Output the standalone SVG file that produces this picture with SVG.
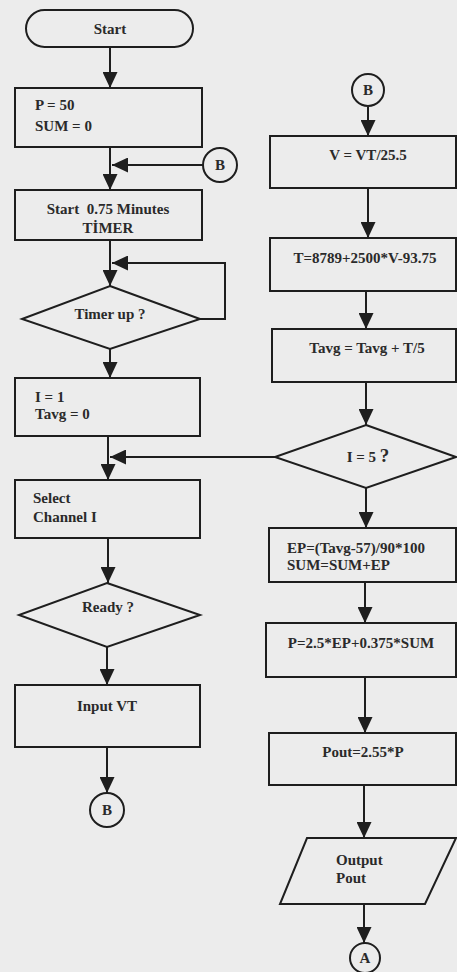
<svg xmlns="http://www.w3.org/2000/svg" width="457" height="972" viewBox="0 0 457 972">
<style>
.sh{fill:none;stroke:#1e1e1e;stroke-width:2}
.ln{fill:none;stroke:#1e1e1e;stroke-width:2;marker-end:url(#ah)}
text{font-family:"Liberation Serif","Times New Roman",serif;font-size:15px;font-weight:bold;fill:#2a2a2a}
.c{text-anchor:middle}
</style>
<defs>
<marker id="ah" markerUnits="userSpaceOnUse" markerWidth="16" markerHeight="15" viewBox="0 0 16 15" refX="16" refY="7.5" orient="auto">
<path d="M0,0 L16,7.5 L0,15 z" fill="#1e1e1e"/>
</marker>
</defs>
<rect width="457" height="972" fill="#ececec"/>
<g id="connectors">
<path class="ln" d="M110,47 V88"/>
<path class="ln" d="M110,147 V190"/>
<path class="ln" d="M203,165 H112"/>
<path class="ln" d="M110,240 V286"/>
<path class="ln" d="M200,319 H225 V263 H112"/>
<path class="ln" d="M110,349 V378"/>
<path class="ln" d="M108,436 V480"/>
<path class="ln" d="M275,457 H110"/>
<path class="ln" d="M108,538 V583"/>
<path class="ln" d="M107,647 V685"/>
<path class="ln" d="M107,747 V793"/>
<path class="ln" d="M368,107 V136"/>
<path class="ln" d="M368,188 V238"/>
<path class="ln" d="M366,291 V329"/>
<path class="ln" d="M366,382 V425"/>
<path class="ln" d="M366,488 V528"/>
<path class="ln" d="M365,582 V623"/>
<path class="ln" d="M365,677 V733"/>
<path class="ln" d="M364,785 V838"/>
<path class="ln" d="M364,904 V943"/>
</g>
<g id="start">
<rect class="sh" x="26" y="10" width="167" height="37" rx="18.5"/>
<text class="c" x="110" y="34">Start</text>
</g>
<g id="init">
<rect class="sh" x="15" y="88" width="187" height="59"/>
<text x="35" y="110">P = 50</text>
<text x="35" y="131">SUM = 0</text>
</g>
<g id="connB1">
<circle class="sh" cx="220" cy="165" r="17"/>
<text class="c" x="220" y="170">B</text>
</g>
<g id="timer">
<rect class="sh" x="15" y="190" width="187" height="50"/>
<text class="c" x="108" y="214">Start&#160; 0.75 Minutes</text>
<text class="c" x="108" y="233">TİMER</text>
</g>
<g id="timerup">
<polygon class="sh" points="110,286 200,319 110,349 22,319"/>
<text class="c" x="110" y="319">Timer up ?</text>
</g>
<g id="i1">
<rect class="sh" x="15" y="378" width="185" height="58"/>
<text x="35" y="402">I = 1</text>
<text x="35" y="419">Tavg = 0</text>
</g>
<g id="select">
<rect class="sh" x="15" y="480" width="185" height="58"/>
<text x="33" y="503">Select</text>
<text x="33" y="522">Channel I</text>
</g>
<g id="ready">
<polygon class="sh" points="107,583 200,615 107,647 19,615"/>
<text class="c" x="108" y="612">Ready ?</text>
</g>
<g id="input">
<rect class="sh" x="15" y="685" width="185" height="62"/>
<text class="c" x="107" y="711">Input VT</text>
</g>
<g id="connB2">
<circle class="sh" cx="107" cy="810" r="17"/>
<text class="c" x="107" y="815">B</text>
</g>
<g id="connB3">
<circle class="sh" cx="368" cy="90" r="16"/>
<text class="c" x="368" y="95">B</text>
</g>
<g id="v">
<rect class="sh" x="270" y="136" width="186" height="52"/>
<text class="c" x="368" y="160">V = VT/25.5</text>
</g>
<g id="t">
<rect class="sh" x="270" y="238" width="186" height="53"/>
<text class="c" x="365" y="263">T=8789+2500*V-93.75</text>
</g>
<g id="tavg">
<rect class="sh" x="272" y="329" width="184" height="53"/>
<text class="c" x="367" y="353">Tavg = Tavg + T/5</text>
</g>
<g id="i5">
<polygon class="sh" points="366,425 456,457 366,488 275,457"/>
<text class="c" x="368" y="462">I = 5 <tspan font-size="19">?</tspan></text>
</g>
<g id="ep">
<rect class="sh" x="269" y="528" width="187" height="54"/>
<text x="287" y="553">EP=(Tavg-57)/90*100</text>
<text x="287" y="570">SUM=SUM+EP</text>
</g>
<g id="p">
<rect class="sh" x="266" y="623" width="190" height="54"/>
<text class="c" x="361" y="648">P=2.5*EP+0.375*SUM</text>
</g>
<g id="pout">
<rect class="sh" x="269" y="733" width="187" height="52"/>
<text class="c" x="363" y="757">Pout=2.55*P</text>
</g>
<g id="output">
<polygon class="sh" points="307,838 456,838 425,904 280,904"/>
<text x="336" y="865">Output</text>
<text x="336" y="883">Pout</text>
</g>
<g id="connA">
<circle class="sh" cx="365" cy="958" r="15"/>
<text class="c" x="365" y="963">A</text>
</g>
</svg>
